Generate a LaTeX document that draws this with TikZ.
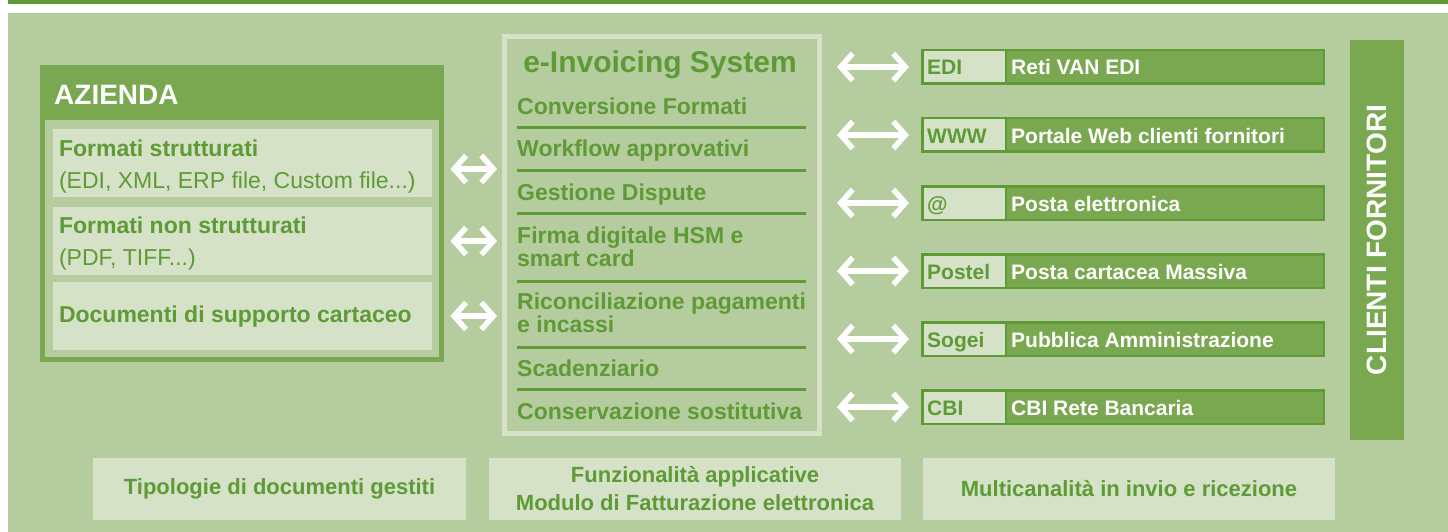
\documentclass[tikz,border=0pt]{standalone}
\usepackage{fontspec}
\setmainfont{Liberation Sans}
\usetikzlibrary{arrows.meta,positioning,calc}

\definecolor{bggreen}{RGB}{181,204,158}
\definecolor{darkgreen}{RGB}{94,154,53}
\definecolor{midgreen}{RGB}{122,168,81}
\definecolor{palegreen}{RGB}{213,226,200}

\tikzset{
	docbox/.style={fill=palegreen, minimum width=379, minimum height=68, inner sep=0pt},
	headtxt/.style={anchor=base west, inner sep=0pt, text=darkgreen, font=\bfseries\fontsize{23}{23}\selectfont},
	subtxt/.style={anchor=base west, inner sep=0pt, text=darkgreen, font=\fontsize{23}{23}\selectfont},
	sepline/.style={darkgreen, line width=3pt},
	chan/.style={fill=midgreen, draw=darkgreen, line width=2.5pt, minimum width=401.5, minimum height=33.5, inner sep=0pt, anchor=north west},
	chanlbl/.style={fill=palegreen, draw=darkgreen, line width=2.5pt, minimum width=83.5, minimum height=33.5, inner sep=0pt, anchor=west},
	lbltxt/.style={anchor=base west, inner sep=0pt, text=darkgreen, font=\bfseries\fontsize{21}{21}\selectfont},
	chantxt/.style={anchor=base west, inner sep=0pt, text=white, font=\bfseries\fontsize{21}{21}\selectfont},
	dbl/.style={white, line width=5.5pt, >={Straight Barb[length=12pt,width=27pt]}, <->},
	footbox/.style={fill=palegreen, text=darkgreen, font=\bfseries\fontsize{22}{28}\selectfont, align=center, minimum height=62, inner sep=0pt}
}

\begin{document}
\begin{tikzpicture}[x=1pt, y=-1pt]
\useasboundingbox (0,0) rectangle (1448,532);
\fill[darkgreen] (8,0) rectangle (1448,4);
\fill[bggreen] (8,13) rectangle (1448,532);

% azienda
\node[fill=midgreen, minimum width=404, minimum height=297, inner sep=0pt, anchor=north west] (az) at (40,65) {};
\fill[bggreen] (45,120) rectangle (439,357);
\node[anchor=base west, inner sep=0pt, text=white, font=\bfseries\fontsize{28}{28}\selectfont] (aztitle) at (54,105) {AZIENDA};
\node[docbox] (fs) at (242.5,163) {};
\node[docbox] (fn) at (242.5,241) {};
\node[docbox] (dc) at (242.5,316) {};
\node[headtxt] (fshead) at ([xshift=6pt,yshift=-28pt]fs.north west) {Formati strutturati};
\node[subtxt] (fssub) at ([xshift=6pt,yshift=-60pt]fs.north west) {(EDI, XML, ERP file, Custom file...)};
\node[headtxt] (fnhead) at ([xshift=6pt,yshift=-27pt]fn.north west) {Formati non strutturati};
\node[subtxt] (fnsub) at ([xshift=6pt,yshift=-59pt]fn.north west) {(PDF, TIFF...)};
\node[headtxt] (dchead) at ([xshift=6pt,yshift=-6pt]dc.west) {Documenti di supporto cartaceo};

% e-invoicing system
\node[draw=palegreen, line width=5pt, minimum width=315, minimum height=397, inner sep=0pt] (ei) at (662,235) {};
\node[anchor=base, inner sep=0pt, text=darkgreen, font=\bfseries\fontsize{30}{30}\selectfont] (eititle) at (660,73) {e-Invoicing System};
\node[headtxt] (conv) at (517,115) {Conversione Formati};
\node[headtxt] (work) at (517,157) {Workflow approvativi};
\node[headtxt] (disp) at (517,200) {Gestione Dispute};
\node[headtxt] (firma) at (517,243) {Firma digitale HSM e};
\node[headtxt] (firmb) at (517,266) {smart card};
\node[headtxt] (ricoa) at (517,309) {Riconciliazione pagamenti};
\node[headtxt] (ricob) at (517,332) {e incassi};
\node[headtxt] (scad) at (517,376) {Scadenziario};
\node[headtxt] (cons) at (517,419) {Conservazione sostitutiva};
\draw[sepline] (517,128) -- (806,128);
\draw[sepline] (517,170) -- (806,170);
\draw[sepline] (517,213) -- (806,213);
\draw[sepline] (517,281) -- (806,281);
\draw[sepline] (517,347) -- (806,347);
\draw[sepline] (517,389) -- (806,389);

% canali
\node[chan] (c1) at (921,49) {};
\node[chan] (c2) at (921,117) {};
\node[chan] (c3) at (921,185) {};
\node[chan] (c4) at (921,253) {};
\node[chan] (c5) at (921,321) {};
\node[chan] (c6) at (921,389) {};
\node[chanlbl] (c1l) at (c1.west) {};
\node[chanlbl] (c2l) at (c2.west) {};
\node[chanlbl] (c3l) at (c3.west) {};
\node[chanlbl] (c4l) at (c4.west) {};
\node[chanlbl] (c5l) at (c5.west) {};
\node[chanlbl] (c6l) at (c6.west) {};
\node[lbltxt] at ([xshift=6pt,yshift=-8pt]c1l.west) {EDI};
\node[lbltxt] at ([xshift=6pt,yshift=-8pt]c2l.west) {WWW};
\node[lbltxt] at ([xshift=6pt,yshift=-8pt]c3l.west) {@};
\node[lbltxt] at ([xshift=6pt,yshift=-8pt]c4l.west) {Postel};
\node[lbltxt] at ([xshift=6pt,yshift=-8pt]c5l.west) {Sogei};
\node[lbltxt] at ([xshift=6pt,yshift=-8pt]c6l.west) {CBI};
\node[chantxt] at ([xshift=4pt,yshift=-8pt]c1l.east) {Reti VAN EDI};
\node[chantxt] at ([xshift=4pt,yshift=-8pt]c2l.east) {Portale Web clienti fornitori};
\node[chantxt] at ([xshift=4pt,yshift=-8pt]c3l.east) {Posta elettronica};
\node[chantxt] at ([xshift=4pt,yshift=-8pt]c4l.east) {Posta cartacea Massiva};
\node[chantxt] at ([xshift=4pt,yshift=-8pt]c5l.east) {Pubblica Amministrazione};
\node[chantxt] at ([xshift=4pt,yshift=-8pt]c6l.east) {CBI Rete Bancaria};

\node[fill=midgreen, rotate=90, minimum width=400, minimum height=54, inner sep=0pt, text=white, font=\bfseries\fontsize{28}{28}\selectfont] (cf) at (1377,240) {CLIENTI FORNITORI};

% frecce
\path[dbl, shorten <=6pt, shorten >=5pt]
($(fs.east -| az.east)+(0,6)$) edge ($(fs.east -| ei.west)+(0,6)$)
(fn.east -| az.east) edge (fn.east -| ei.west)
(dc.east -| az.east) edge (dc.east -| ei.west)
;
\path[dbl, shorten <=15pt, shorten >=12pt]
(ei.east |- c1.west) edge (c1.west)
(ei.east |- c2.west) edge (c2.west)
(ei.east |- c3.west) edge (c3.west)
(ei.east |- c4.west) edge (c4.west)
(ei.east |- c5.west) edge (c5.west)
(ei.east |- c6.west) edge (c6.west)
;

% didascalie
\node[footbox, minimum width=373] (ft1) at (279.5,489) {Tipologie di documenti gestiti};
\node[footbox, minimum width=412] (ft2) at (695,489) {Funzionalità applicative\\Modulo di Fatturazione elettronica};
\node[footbox, minimum width=412] (ft3) at (1129,489) {Multicanalità in invio e ricezione};
\end{tikzpicture}
\end{document}
